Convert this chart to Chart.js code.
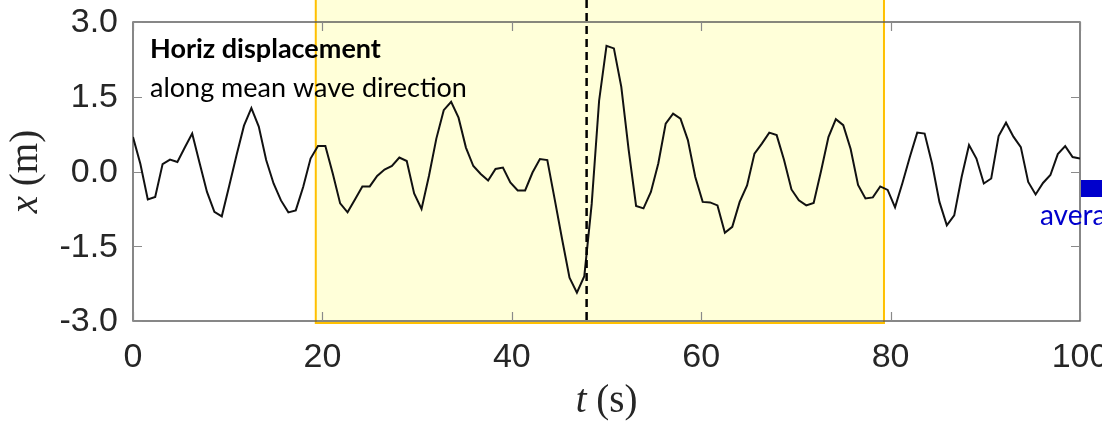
<!DOCTYPE html>
<html>
<head>
<meta charset="utf-8">
<script src="https://cdn.jsdelivr.net/npm/chart.js@4.4.1/dist/chart.umd.min.js"></script>
<style>
  html, body { margin: 0; padding: 0; background: #ffffff; }
  #wave { display: block; }
</style>
</head>
<body>
<canvas id="wave" width="1102" height="429"></canvas>
<script>
// buoy record, one sample every 0.78125 s (1.28 Hz)
const sampleStep = 0.78125;
const displacement = [
   0.69,  0.15, -0.56, -0.51,  0.15,  0.24,  0.19,  0.48,  0.76,  0.17,
  -0.41, -0.81, -0.90, -0.29,  0.33,  0.92,  1.27,  0.90,  0.23, -0.24,
  -0.58, -0.82, -0.78, -0.31,  0.26,  0.51,  0.51, -0.04, -0.64, -0.82,
  -0.56, -0.30, -0.30, -0.09,  0.04,  0.11,  0.28,  0.21, -0.44, -0.75,
  -0.09,  0.66,  1.23,  1.40,  1.08,  0.48,  0.11, -0.05, -0.18,  0.05,
   0.08, -0.22, -0.38, -0.38, -0.02,  0.25,  0.23, -0.56, -1.36, -2.13,
  -2.43, -2.10, -0.65,  1.42,  2.52,  2.47,  1.70,  0.43, -0.69, -0.74,
  -0.41,  0.16,  0.96,  1.16,  1.06,  0.63, -0.11, -0.61, -0.62, -0.68,
  -1.23, -1.11, -0.61, -0.28,  0.36,  0.56,  0.78,  0.73,  0.23, -0.36,
  -0.58, -0.68, -0.63,  0.01,  0.69,  1.05,  0.93,  0.45, -0.27, -0.54,
  -0.52, -0.30, -0.37, -0.72, -0.23,  0.29,  0.78,  0.76,  0.16, -0.61,
  -1.08, -0.88, -0.11,  0.53,  0.26, -0.24, -0.14,  0.71,  0.98,  0.70,
   0.49, -0.21, -0.46, -0.23, -0.07,  0.35,  0.51,  0.29,  0.26
];

const xTicks = [0, 20, 40, 60, 80, 100];
const xTickLabels = ['0', '20', '40', '60', '80', '100'];
const yTicks = [3.0, 1.5, 0.0, -1.5, -3.0];
const yTickLabels = ['3.0', '1.5', '0.0', '-1.5', '-3.0'];

// analysis window and the time of the largest wave
const windowStart = 19.3;
const windowEnd = 79.3;
const peakTime = 47.9;

const points = displacement.map((v, i) => ({ x: i * sampleStep, y: v }));

const tickColor = '#262626';
const numFont = '34px "Liberation Sans", Arial, sans-serif';
const serif = '"Liberation Serif", "DejaVu Serif", serif';
const noteFont = 'Lato, "Open Sans", sans-serif';

const decor = {
  id: 'decor',
  beforeDraw(chart) {
    const ctx = chart.ctx;
    const a = chart.chartArea;
    const xs = chart.scales.x, ys = chart.scales.y;
    ctx.save();

    // shaded analysis window
    const wx0 = xs.getPixelForValue(windowStart);
    const wx1 = xs.getPixelForValue(windowEnd);
    ctx.fillStyle = '#ffffd9';
    ctx.fillRect(wx0, 0, wx1 - wx0, a.bottom + 2);
    ctx.strokeStyle = '#ffc000';
    ctx.lineWidth = 2;
    ctx.strokeRect(wx0, -2, wx1 - wx0, a.bottom + 4);

    // axes box
    ctx.strokeStyle = '#555555';
    ctx.lineWidth = 1.4;
    ctx.strokeRect(a.left, a.top, a.right - a.left, a.bottom - a.top);

    // inward ticks on all four sides
    ctx.strokeStyle = '#8a8a8a';
    ctx.lineWidth = 1.2;
    ctx.beginPath();
    xTicks.forEach(t => {
      const px = Math.round(xs.getPixelForValue(t)) + 0.5;
      ctx.moveTo(px, a.bottom); ctx.lineTo(px, a.bottom - 9);
      ctx.moveTo(px, a.top); ctx.lineTo(px, a.top + 9);
    });
    yTicks.forEach(v => {
      const py = Math.round(ys.getPixelForValue(v)) + 0.5;
      ctx.moveTo(a.left, py); ctx.lineTo(a.left + 9, py);
      ctx.moveTo(a.right, py); ctx.lineTo(a.right - 9, py);
    });
    ctx.stroke();

    // tick labels
    ctx.fillStyle = tickColor;
    ctx.font = numFont;
    ctx.textAlign = 'right';
    ctx.textBaseline = 'middle';
    yTicks.forEach((v, i) => ctx.fillText(yTickLabels[i], a.left - 15, ys.getPixelForValue(v) + 1));
    ctx.textAlign = 'center';
    ctx.textBaseline = 'top';
    xTicks.forEach((t, i) => ctx.fillText(xTickLabels[i], xs.getPixelForValue(t), a.bottom + 20));

    // axis titles: italic symbol, upright unit
    ctx.fillStyle = '#262626';
    ctx.textBaseline = 'alphabetic';
    ctx.textAlign = 'left';
    const it = 'italic 39px ' + serif, up = '39px ' + serif;
    ctx.font = it; const wt = ctx.measureText('t').width;
    ctx.font = up; const ws = ctx.measureText(' (s)').width;
    let cx = (a.left + a.right) / 2 - (wt + ws) / 2;
    ctx.font = it; ctx.fillText('t', cx, 412);
    ctx.font = up; ctx.fillText(' (s)', cx + wt, 412);

    ctx.save();
    ctx.translate(37, (a.top + a.bottom) / 2);
    ctx.rotate(-Math.PI / 2);
    ctx.font = it; const wxl = ctx.measureText('x').width;
    ctx.font = up; const wm = ctx.measureText(' (m)').width;
    cx = -(wxl + wm) / 2;
    ctx.font = it; ctx.fillText('x', cx, 0);
    ctx.font = up; ctx.fillText(' (m)', cx + wxl, 0);
    ctx.restore();

    // panel note
    ctx.fillStyle = '#000000';
    ctx.font = 'bold 27px ' + noteFont;
    ctx.fillText('Horiz displacement', 150, 58);
    ctx.font = '27px ' + noteFont;
    ctx.fillText('along mean wave direction', 150, 97);

    ctx.restore();
  },
  afterDatasetsDraw(chart) {
    const ctx = chart.ctx;
    const a = chart.chartArea;
    const xs = chart.scales.x;
    ctx.save();

    // marker at the largest wave
    const px = xs.getPixelForValue(peakTime);
    ctx.strokeStyle = '#000000';
    ctx.lineWidth = 2.5;
    ctx.setLineDash([8, 5]);
    ctx.beginPath();
    ctx.moveTo(px, 0);
    ctx.lineTo(px, a.bottom + 2);
    ctx.stroke();
    ctx.setLineDash([]);

    // start of the neighbouring panel's legend
    ctx.fillStyle = '#0000cc';
    ctx.fillRect(a.right + 1, 180, 30, 17);
    ctx.font = '28px ' + noteFont;
    ctx.textBaseline = 'alphabetic';
    ctx.textAlign = 'left';
    ctx.fillText('average', 1040, 225);
    ctx.restore();
  }
};

new Chart(document.getElementById('wave'), {
  type: 'line',
  data: {
    datasets: [{
      data: points,
      borderColor: '#111111',
      borderWidth: 2,
      pointRadius: 0,
      tension: 0,
      fill: false
    }]
  },
  options: {
    responsive: false,
    animation: false,
    devicePixelRatio: 1,
    layout: { padding: { left: 133, right: 22, top: 22, bottom: 108 } },
    plugins: { legend: { display: false }, tooltip: { enabled: false } },
    scales: {
      x: { type: 'linear', min: 0, max: 100, display: false },
      y: { type: 'linear', min: -3, max: 3, display: false }
    }
  },
  plugins: [decor]
});
</script>
</body>
</html>
